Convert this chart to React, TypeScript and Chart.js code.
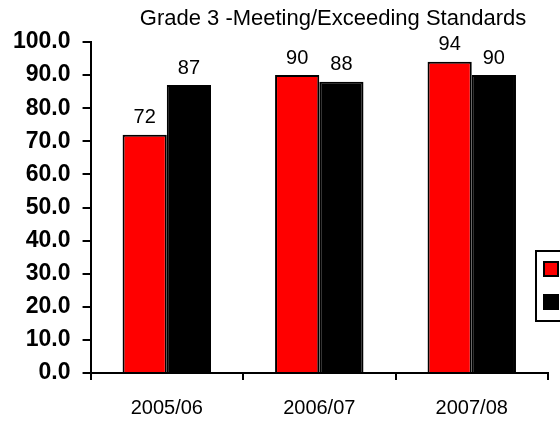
import React, { useEffect, useRef } from "react";
import { Chart, registerables } from "chart.js";

Chart.register(...registerables);

const categories = ["2005/06", "2006/07", "2007/08"];
const schoolValues = [72, 90, 94];
const districtValues = [87, 88, 90];
const seriesLabels = ["School", "District"];
const titleText = "Grade 3 -Meeting/Exceeding Standards";

const FONT = "'Liberation Sans', Arial, sans-serif";

const titlePlugin = {
  id: "customTitle",
  afterDraw(chart: any) {
    const ctx = chart.ctx;
    ctx.save();
    ctx.font = `22px ${FONT}`;
    ctx.fillStyle = "#000";
    ctx.textAlign = "center";
    ctx.textBaseline = "middle";
    ctx.fillText(titleText, 333, 19);
    ctx.restore();
  },
};

const dataLabelPlugin = {
  id: "dataLabels",
  afterDatasetsDraw(chart: any) {
    const ctx = chart.ctx;
    ctx.save();
    ctx.font = `20px ${FONT}`;
    ctx.fillStyle = "#000";
    ctx.textAlign = "center";
    ctx.textBaseline = "bottom";
    chart.data.datasets.forEach((ds: any, i: number) => {
      const meta = chart.getDatasetMeta(i);
      meta.data.forEach((bar: any, j: number) => {
        ctx.fillText(String(ds.data[j]), bar.x, bar.y - 7);
      });
    });
    ctx.restore();
  },
};

const legendPlugin = {
  id: "cutLegend",
  afterDraw(chart: any) {
    const ctx = chart.ctx;
    ctx.save();
    ctx.strokeStyle = "#000";
    ctx.lineWidth = 2;
    ctx.strokeRect(536, 251, 80, 70);
    chart.data.datasets.forEach((ds: any, i: number) => {
      const y = 262 + i * 33;
      ctx.fillStyle = ds.backgroundColor;
      ctx.fillRect(544, y, 14, 14);
      ctx.lineWidth = 2;
      ctx.strokeRect(544, y, 14, 14);
      ctx.fillStyle = "#000";
      ctx.font = `16px ${FONT}`;
      ctx.textBaseline = "middle";
      ctx.fillText(ds.label, 566, y + 7);
    });
    ctx.restore();
  },
};

export default function App() {
  const ref = useRef<HTMLCanvasElement>(null);
  useEffect(() => {
    if (!ref.current) return;
    const chart = new Chart(ref.current, {
      type: "bar",
      data: {
        labels: categories,
        datasets: [
          {
            label: seriesLabels[0],
            data: schoolValues,
            backgroundColor: "#ff0000",
            borderColor: "#000",
            borderWidth: 2,
            borderSkipped: "bottom",
          },
          {
            label: seriesLabels[1],
            data: districtValues,
            backgroundColor: "#000000",
            borderColor: "#000",
            borderWidth: 2,
            borderSkipped: "bottom",
          },
        ],
      },
      options: {
        animation: false,
        responsive: false,
        maintainAspectRatio: false,
        layout: { padding: { top: 42, right: 12, left: 1, bottom: -11 } },
        plugins: {
          legend: { display: false },
          title: { display: false },
          tooltip: { enabled: false },
        },
        datasets: {
          bar: { categoryPercentage: 0.58, barPercentage: 1 },
        },
        scales: {
          x: {
            grid: {
              drawOnChartArea: false,
              drawTicks: true,
              tickLength: 7,
              color: "#000",
              lineWidth: 2,
            },
            border: { display: true, color: "#000", width: 2 },
            ticks: {
              color: "#000",
              font: { family: FONT, size: 20 },
              padding: 16,
            },
          },
          y: {
            min: 0,
            max: 100,
            grid: {
              drawOnChartArea: false,
              drawTicks: true,
              tickLength: 8,
              color: "#000",
              lineWidth: 2,
            },
            border: { display: true, color: "#000", width: 2 },
            ticks: {
              stepSize: 10,
              color: "#000",
              font: { family: FONT, size: 23, weight: "bold" },
              padding: 12,
              callback: (v: any) => Number(v).toFixed(1),
            },
          },
        },
      },
      plugins: [titlePlugin, dataLabelPlugin, legendPlugin],
    });
    return () => chart.destroy();
  }, []);
  return (
    <div style={{ position: "absolute", left: 0, top: 0, width: 560, height: 425, background: "#fff" }}>
      <canvas ref={ref} width={560} height={425} />
    </div>
  );
}
